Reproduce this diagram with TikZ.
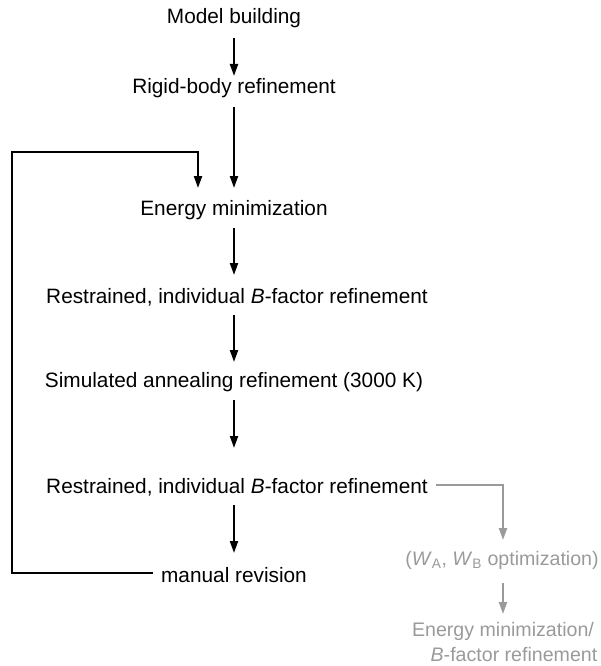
\documentclass[tikz,border=0pt]{standalone}
\usepackage{fontspec}
\setmainfont{Liberation Sans}
\usetikzlibrary{arrows.meta}
\definecolor{lgray}{HTML}{9A9A9A}
\begin{document}
\begin{tikzpicture}[x=1pt,y=-1pt,
  lbl/.style={font=\fontsize{20.8}{24}\selectfont, inner sep=0pt, anchor=center},
  glbl/.style={lbl, font=\fontsize{19.6}{24}\selectfont, text=lgray},
  tip/.style={-{Triangle[length=12pt,width=8pt]}},
  arr/.style={line width=2pt, tip},
  garr/.style={arr, draw=lgray},
  ln/.style={line width=2pt}]
\useasboundingbox (0,0) rectangle (601,666);
\node[lbl] (mb) at (234,18) {Model building};
\node[lbl] (rb) at (234,88) {Rigid-body refinement};
\node[lbl] (em) at (234,210) {Energy minimization};
\node[lbl] (r1) at (237,297) {Restrained, individual \textit{B}-factor refinement};
\node[lbl] (sa) at (234,382) {Simulated annealing refinement (3000 K)};
\node[lbl] (r2) at (237,487) {Restrained, individual \textit{B}-factor refinement};
\node[lbl] (mr) at (234,575) {manual revision};
\node[glbl] (wo) at (502,560) {(\textit{W}\textsubscript{A}, \textit{W}\textsubscript{B} optimization)};
\node[glbl] (eb) at (503,631) {Energy minimization/};
\node[glbl] (eb2) at (514,654) {\textit{B}-factor refinement};

\coordinate (a1s) at (234,38); \coordinate (a1e) at (234,76);
\draw[arr] (a1s) -- (a1e);
\coordinate (a2s) at (234,107); \coordinate (a2e) at (234,188);
\draw[arr] (a2s) -- (a2e);
\coordinate (a3s) at (234,228); \coordinate (a3e) at (234,275);
\draw[arr] (a3s) -- (a3e);
\coordinate (a4s) at (234,315); \coordinate (a4e) at (234,362);
\draw[arr] (a4s) -- (a4e);
\coordinate (a5s) at (234,400); \coordinate (a5e) at (234,448);
\draw[arr] (a5s) -- (a5e);
\coordinate (a6s) at (234,505); \coordinate (a6e) at (234,553);
\draw[arr] (a6s) -- (a6e);
% feedback loop
\coordinate (fbs) at (153,573);
\coordinate (fbe) at (198,188);
\draw[ln, tip] (fbs) -- (12,573) -- (12,152) -- (198,152) -- (fbe);
% gray branch
\coordinate (gs) at (436,485);
\coordinate (ge) at (503,540);
\draw[garr] (gs) -- (503,485) -- (ge);
\coordinate (g2s) at (503,583); \coordinate (g2e) at (503,614);
\draw[garr] (g2s) -- (g2e);
\end{tikzpicture}
\end{document}
